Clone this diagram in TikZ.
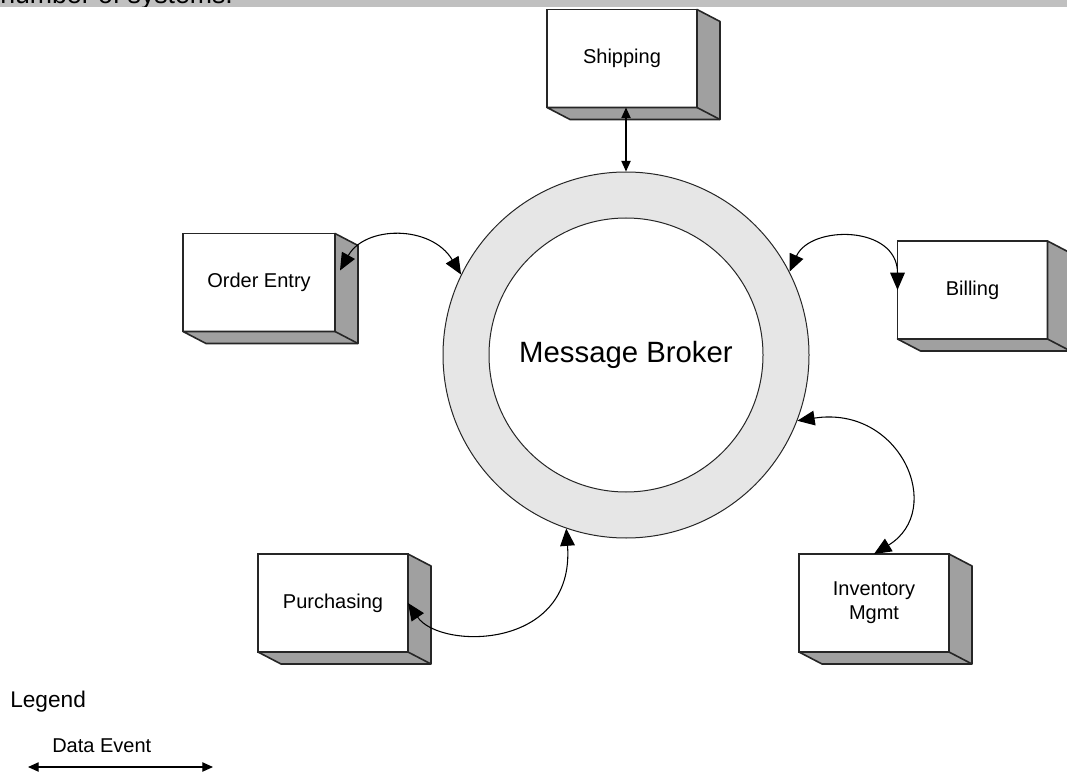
\documentclass[tikz,border=0pt]{standalone}
\usepackage{fontspec}
\setmainfont{Liberation Sans}
\usetikzlibrary{arrows.meta,calc}
\definecolor{ringgray}{RGB}{230,230,230}
\definecolor{sidegray}{RGB}{160,160,160}
\definecolor{bandgray}{RGB}{192,192,192}
\tikzset{
    sysbox/.style={rectangle, draw=black!85, line width=1.2pt, fill=white, minimum width=112.5pt, minimum height=73.5pt, inner sep=0pt, outer sep=0pt, align=center, font=\fontsize{15}{18}\selectfont},
    boxside/.style={draw=black!85, line width=1.2pt, fill=sidegray, line join=round},
    ringnode/.style={circle, draw=black!85, line width=0.75pt, inner sep=0pt},
    evtarrow/.style={<->, >={Triangle[length=13pt,width=11pt]}, line width=0.8pt},
    smallarrow/.style={<->, >={Triangle[length=8pt,width=7pt]}, line width=0.9pt},
    plaintext/.style={anchor=base west, inner sep=0pt}
}
\begin{document}
\begin{tikzpicture}[x=0.75pt, y=-0.75pt]
\useasboundingbox (0,0) rectangle (1067,777);

% strip left over from the page above
\fill[bandgray] (0,0) rectangle (1067,7);
\begin{scope}
\clip (0,0) rectangle (1067,7);
\node[plaintext, font=\fontsize{20}{24}\selectfont] (topnote) at (0,4) {number of systems.};
\end{scope}

% broker
\node[ringnode, fill=ringgray, minimum size=274.5pt] (ring) at (626,355) {};
\node[ringnode, fill=white, minimum size=205.5pt, font=\fontsize{22}{26}\selectfont] (broker) at (ring.center) {Message Broker};

% systems
\node[sysbox] (ship) at (622,58.5) {Shipping};
\node[sysbox, minimum width=114pt] (order) at (259,282.5) {Order Entry};
\node[sysbox] (bill) at (972.5,290) {Billing};
\node[sysbox] (purch) at (333,603) {Purchasing};
\node[sysbox] (inv) at (874,603) {Inventory\\Mgmt};

\foreach \n in {ship,order,bill,purch,inv}{
    \filldraw[boxside] (\n.north east) -- ++(23,12) -- ($(\n.south east)+(23,12)$) -- ($(\n.south west)+(23,12)$) -- (\n.south west) -- (\n.south east) -- cycle;
    \draw[boxside] (\n.south east) -- ++(23,12);
}

% data events
\draw[smallarrow] (ring.north |- ship.south) -- (ring.north);
\draw[evtarrow] ([xshift=3.75pt,yshift=9pt]order.east) .. controls +(25,-45) and +(-30,-50) .. (ring.154);
\draw[evtarrow] (ring.27) .. controls +(21,-47) and +(0,-65) .. (bill.west);
\draw[evtarrow] (ring.-21) .. controls +(103,-16) and +(72,-44) .. (inv.north);
\draw[evtarrow] (purch.east) .. controls +(32,47) and +(9,122) .. (ring.-109);

% legend
\node[plaintext, font=\fontsize{17}{20}\selectfont] (legend) at (10,707) {Legend};
\coordinate (evtL) at (28,767);
\coordinate (evtR) at (213,767);
\draw[smallarrow] (evtL) -- (evtR);
\node[plaintext, font=\fontsize{15}{18}\selectfont] (evtlabel) at (52,752) {Data Event};
\end{tikzpicture}
\end{document}
